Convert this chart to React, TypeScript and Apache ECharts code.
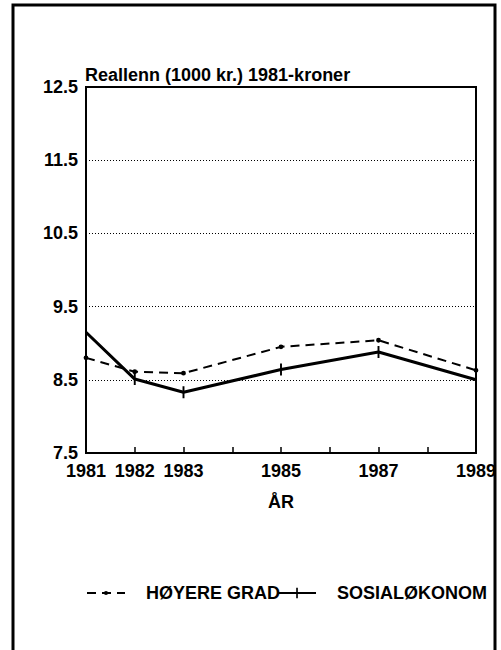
import React, { useEffect, useRef } from "react";
import * as echarts from "echarts";

const years = [1981, 1982, 1983, 1985, 1987, 1989];
const shownYearLabels = [1981, 1982, 1983, 1985, 1987, 1989];
const hoyereGrad = [8.8, 8.61, 8.59, 8.95, 9.04, 8.63];
const sosialokonom = [9.15, 8.51, 8.33, 8.64, 8.88, 8.5];
const gridValues = [8.5, 9.5, 10.5, 11.5];
const titleText = "Reallenn (1000 kr.) 1981-kroner";
const xName = "ÅR";
const seriesNames = ["HØYERE GRAD", "SOSIALØKONOM"];

const FONT = "'Liberation Sans', Arial, Helvetica, sans-serif";
const DOT = "path://M0,0ZM10,10ZM3,5A2,2 0 1 1 7,5A2,2 0 1 1 3,5Z";
const TICK = "path://M0,5ZM10,5ZM4.2,0H5.8V10H4.2Z";

export default function App() {
  const ref = useRef<HTMLDivElement>(null);
  useEffect(() => {
    if (!ref.current) return;
    const chart = echarts.init(ref.current, null, { renderer: "svg" });
    const txt = { fontFamily: FONT, fontWeight: "bold" as const, fontSize: 18, color: "#000" };
    chart.setOption({
      animation: false,
      backgroundColor: "#fff",
      title: {
        text: titleText,
        left: 85,
        top: 66,
        padding: 0,
        textStyle: { ...txt },
      },
      graphic: [
        {
          type: "rect",
          shape: { x: 13, y: 5, width: 482, height: 680 },
          style: { fill: "none", stroke: "#000", lineWidth: 3 },
          silent: true,
        },
      ],
      legend: {
        left: 86,
        top: 584,
        itemWidth: 38,
        itemHeight: 13,
        itemGap: -3,
        padding: 0,
        textStyle: { ...txt, padding: [0, 0, 0, 16] },
        data: seriesNames,
      },
      grid: {
        left: 86,
        top: 87,
        right: 25,
        bottom: 197,
        show: true,
        borderColor: "#000",
        borderWidth: 2,
        backgroundColor: "transparent",
      },
      xAxis: {
        type: "value",
        min: 1981,
        max: 1989,
        interval: 1,
        name: xName,
        nameLocation: "middle",
        nameGap: 40,
        nameTextStyle: { ...txt },
        axisLine: { show: false },
        axisTick: { show: true, inside: true, length: 6, lineStyle: { color: "#000", width: 1.5 } },
        splitLine: { show: false },
        axisLabel: {
          ...txt,
          margin: 9,
          formatter: (v: number) => (shownYearLabels.includes(v) ? String(v) : ""),
        },
      },
      yAxis: {
        type: "value",
        min: 7.5,
        max: 12.5,
        interval: 0.5,
        axisLine: { show: false },
        axisTick: { show: false },
        splitLine: { show: false },
        axisLabel: {
          ...txt,
          margin: 8,
          padding: [0, 0, 6, 0],
          formatter: (v: number) => (Math.abs(v - Math.round(v)) < 1e-6 ? "" : v.toFixed(1)),
        },
      },
      series: [
        {
          name: seriesNames[0],
          type: "line",
          data: years.map((y, i) => [y, hoyereGrad[i]]),
          symbol: DOT,
          symbolSize: 12,
          itemStyle: { color: "#000" },
          lineStyle: { color: "#000", width: 2, type: [9, 6] },
          markLine: {
            silent: true,
            symbol: ["none", "none"],
            label: { show: false },
            lineStyle: { color: "#000", width: 1, type: [1, 2] },
            data: gridValues.map((v) => ({ yAxis: v })),
          },
        },
        {
          name: seriesNames[1],
          type: "line",
          data: years.map((y, i) => [y, sosialokonom[i]]),
          symbol: TICK,
          symbolSize: 12,
          itemStyle: { color: "#000" },
          lineStyle: { color: "#000", width: 3 },
        },
      ],
    });
    return () => chart.dispose();
  }, []);
  return (
    <div
      ref={ref}
      style={{ position: "absolute", left: 0, top: 0, width: 501, height: 650 }}
    />
  );
}
